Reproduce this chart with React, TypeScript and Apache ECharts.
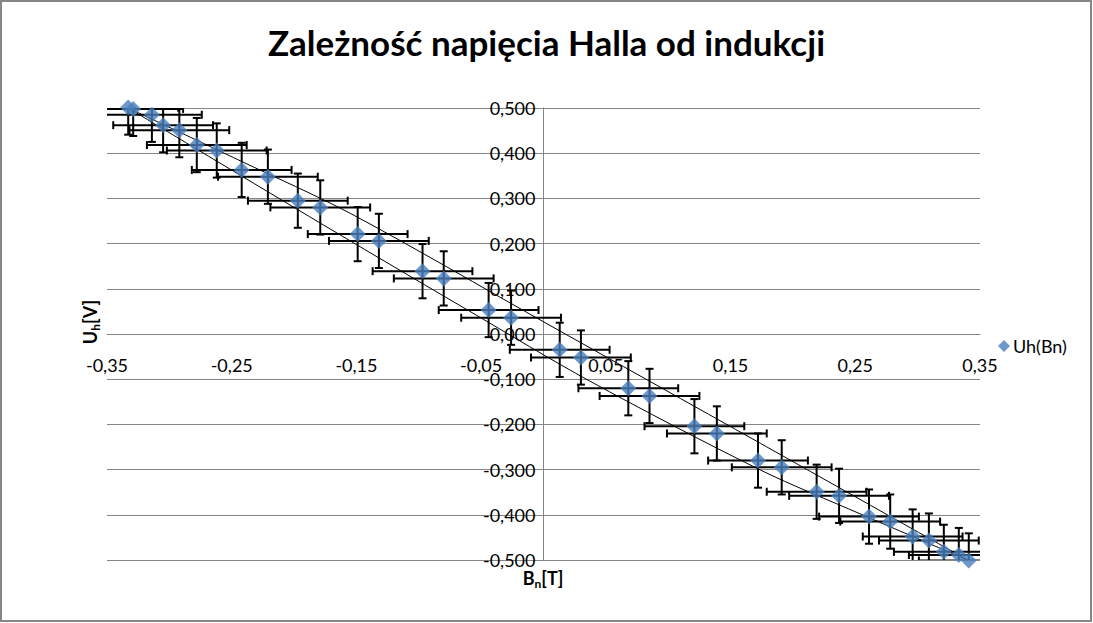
import React, { useEffect, useRef } from "react";
import * as echarts from "echarts";

// Measured points: magnetic induction B_n [T] and Hall voltage U_h [V]
const bValues = [
  -0.333, -0.329, -0.314, -0.305, -0.292, -0.278, -0.262, -0.242, -0.221, -0.197,
  -0.179, -0.149, -0.132, -0.097, -0.08, -0.044, -0.026, 0.013, 0.03, 0.068,
  0.085, 0.121, 0.139, 0.172, 0.191, 0.219, 0.237, 0.261, 0.278, 0.296,
  0.309, 0.321, 0.333, 0.341,
];
const uValues = [
  0.501, 0.498, 0.485, 0.462, 0.451, 0.418, 0.406, 0.363, 0.348, 0.295,
  0.28, 0.221, 0.206, 0.139, 0.123, 0.053, 0.036, -0.035, -0.052, -0.12,
  -0.137, -0.204, -0.22, -0.28, -0.295, -0.349, -0.358, -0.404, -0.415, -0.448,
  -0.457, -0.482, -0.489, -0.501,
];
const bError = 0.04;
const uError = 0.06;

// Thin envelope lines
const upperCurveB = [-0.333, -0.243, -0.155, 0, 0.174, 0.34];
const upperCurveU = [0.5, 0.383, 0.267, 0.027, -0.242, -0.5];
const lowerCurveB = [-0.333, -0.243, -0.155, -0.059, 0.037, 0.174, 0.254, 0.34];
const lowerCurveU = [0.5, 0.351, 0.206, 0.05, -0.104, -0.301, -0.398, -0.5];

const titleText = "Zależność napięcia Halla od indukcji";
const seriesName = "Uh(Bn)";

const FONT = 'Lato, "Open Sans", sans-serif';

const GRID = { left: 107, top: 108, width: 873, height: 452 };
const X_MIN = -0.35;
const X_MAX = 0.35;
const Y_MIN = -0.5;
const Y_MAX = 0.5;

export default function App() {
  const ref = useRef<HTMLDivElement>(null);
  useEffect(() => {
    if (!ref.current) return;
    const chart = echarts.init(ref.current, null, { renderer: "svg" });
    const errData = bValues.map((b, i) => [b, uValues[i], bError, uError]);
    const capH = 4;
    // shift axes so they cross at zero
    const yAxisOffset = -((0 - X_MIN) / (X_MAX - X_MIN)) * GRID.width;
    const xAxisOffset = -((0 - Y_MIN) / (Y_MAX - Y_MIN)) * GRID.height;
    const option: any = {
      animation: false,
      backgroundColor: "#fff",
      textStyle: { fontFamily: FONT },
      title: {
        text: titleText,
        left: "center",
        top: 19,
        textStyle: { fontFamily: FONT, fontSize: 35, fontWeight: "bold", color: "#000" },
      },
      legend: {
        data: [{ name: seriesName, icon: "diamond" }],
        left: 993,
        top: 332,
        itemWidth: 12,
        itemHeight: 12,
        itemGap: 4,
        textStyle: { fontFamily: FONT, fontSize: 18, color: "#000", padding: [0, 0, 0, -2] },
      },
      grid: { ...GRID, containLabel: false },
      xAxis: {
        type: "value",
        min: X_MIN,
        max: X_MAX,
        interval: 0.05,
        position: "bottom",
        offset: xAxisOffset,
        axisLine: { onZero: false, lineStyle: { color: "#868686", width: 1 } },
        axisTick: { show: false },
        splitLine: { show: false },
        axisLabel: {
          margin: 22,
          fontSize: 18,
          fontFamily: FONT,
          color: "#000",
          showMinLabel: true,
          showMaxLabel: true,
          formatter: (v: number) => {
            const k = Math.round(Math.abs(v) * 100);
            if (k % 10 !== 5) return "";
            return v.toFixed(2).replace(".", ",");
          },
        },
      },
      yAxis: {
        type: "value",
        min: Y_MIN,
        max: Y_MAX,
        interval: 0.1,
        position: "left",
        offset: yAxisOffset,
        axisLine: { onZero: false, lineStyle: { color: "#868686", width: 1 } },
        axisTick: { show: true, length: 4, lineStyle: { color: "#868686" } },
        splitLine: { show: true, lineStyle: { color: "#868686", width: 1 } },
        axisLabel: {
          margin: 8,
          fontSize: 18,
          fontFamily: FONT,
          color: "#000",
          formatter: (v: number) => {
            const val = Math.abs(v) < 1e-9 ? 0 : v;
            return val.toFixed(3).replace(".", ",");
          },
        },
      },
      series: [
        {
          type: "custom",
          name: "errors",
          clip: true,
          silent: true,
          z: 2,
          data: errData,
          encode: { x: 0, y: 1 },
          renderItem: (params: any, api: any) => {
            const x = api.value(0);
            const y = api.value(1);
            const ex = api.value(2);
            const ey = api.value(3);
            const l = api.coord([x - ex, y]);
            const r = api.coord([x + ex, y]);
            const t = api.coord([x, y + ey]);
            const b = api.coord([x, y - ey]);
            const style = { stroke: "#000", lineWidth: 2 };
            const line = (x1: number, y1: number, x2: number, y2: number) => ({
              type: "line",
              shape: { x1, y1, x2, y2 },
              style,
            });
            return {
              type: "group",
              children: [
                line(l[0], l[1], r[0], r[1]),
                line(l[0], l[1] - capH, l[0], l[1] + capH),
                line(r[0], r[1] - capH, r[0], r[1] + capH),
                line(t[0], t[1], b[0], b[1]),
                line(t[0] - capH, t[1], t[0] + capH, t[1]),
                line(b[0] - capH, b[1], b[0] + capH, b[1]),
              ],
            };
          },
        },
        {
          type: "line",
          name: "upper",
          data: upperCurveB.map((b, i) => [b, upperCurveU[i]]),
          symbol: "none",
          smooth: 0.3,
          clip: false,
          silent: true,
          z: 3,
          lineStyle: { color: "#000", width: 1 },
        },
        {
          type: "line",
          name: "lower",
          data: lowerCurveB.map((b, i) => [b, lowerCurveU[i]]),
          symbol: "none",
          smooth: 0.3,
          clip: false,
          silent: true,
          z: 3,
          lineStyle: { color: "#000", width: 1 },
        },
        {
          type: "scatter",
          name: seriesName,
          data: bValues.map((b, i) => [b, uValues[i]]),
          symbol: "diamond",
          symbolSize: 16,
          clip: false,
          z: 4,
          itemStyle: { color: "#4a7ebb" },
        },
      ],
      graphic: [
        {
          type: "rect",
          silent: true,
          z: -1,
          shape: { x: 1, y: 1, width: 1090, height: 620 },
          style: { fill: "none", stroke: "#868686", lineWidth: 2 },
        },
        {
          type: "text",
          x: 90,
          y: 322,
          rotation: Math.PI / 2,
          style: {
            text: "{a|U}{s|h}{a|[V]}",
            align: "center",
            verticalAlign: "middle",
            rich: {
              a: { fontFamily: FONT, fontSize: 18, fontWeight: "bold", fill: "#000", lineHeight: 22 },
              s: { fontFamily: FONT, fontSize: 12, fontWeight: "bold", fill: "#000", lineHeight: 14, verticalAlign: "bottom" },
            },
          },
        },
        {
          type: "text",
          x: 543,
          y: 578,
          style: {
            text: "{a|B}{s|n}{a|[T]}",
            align: "center",
            verticalAlign: "middle",
            rich: {
              a: { fontFamily: FONT, fontSize: 18, fontWeight: "bold", fill: "#000", lineHeight: 22 },
              s: { fontFamily: FONT, fontSize: 12, fontWeight: "bold", fill: "#000", lineHeight: 14, verticalAlign: "bottom" },
            },
          },
        },
      ],
    };
    chart.setOption(option);
    return () => chart.dispose();
  }, []);
  return (
    <div
      ref={ref}
      style={{ position: "absolute", left: 0, top: 0, width: 1093, height: 623 }}
    />
  );
}
